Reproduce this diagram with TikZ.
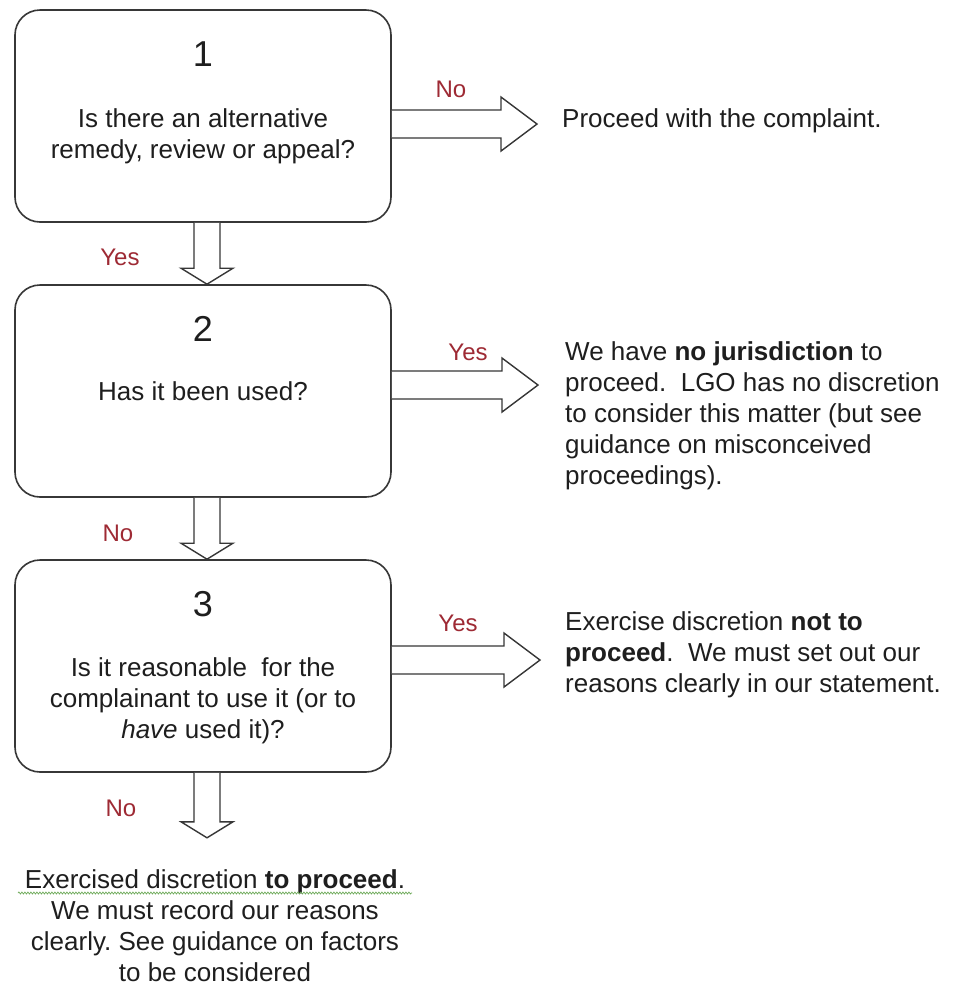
\documentclass[tikz,border=0pt]{standalone}
\usepackage{fontspec}
\setmainfont{Liberation Sans}
\usetikzlibrary{calc,decorations.pathmorphing}
\definecolor{ink}{RGB}{30,30,30}
\definecolor{edge}{RGB}{55,55,55}
\definecolor{lab}{RGB}{158,42,52}
\definecolor{squig}{RGB}{110,170,90}
\frenchspacing
\newcommand\rblock[2]{\draw[blockarrow] ($(#1)+(0,-14)$) -- ($(#2)+(-36,-14)$) -- ($(#2)+(-36,-27)$) -- (#2) -- ($(#2)+(-36,27)$) -- ($(#2)+(-36,14)$) -- ($(#1)+(0,14)$);}
\newcommand\dblock[2]{\draw[blockarrow] ($(#1)+(-13,0)$) -- ($(#2)+(-13,-16)$) -- ($(#2)+(-26,-16)$) -- (#2) -- ($(#2)+(26,-16)$) -- ($(#2)+(13,-16)$) -- ($(#1)+(13,0)$);}
\begin{document}
\begin{tikzpicture}[x=1pt,y=-1pt,
  box/.style={draw=edge, line width=1.6pt, rounded corners=25pt, fill=white,
    minimum width=376pt, minimum height=212pt, inner sep=0pt},
  num/.style={inner sep=0pt, text=ink, font=\fontsize{36}{40}\selectfont},
  qtext/.style={inner sep=0pt, text=ink, align=center, anchor=north, font=\fontsize{26}{31}\selectfont},
  rtext/.style={inner sep=0pt, text=ink, align=left, font=\fontsize{26}{31}\selectfont},
  lbl/.style={inner sep=0pt, text=lab, font=\fontsize{24}{28}\selectfont},
  blockarrow/.style={draw=edge, line width=1.4pt, fill=white, line join=miter}]
\useasboundingbox (0,0) rectangle (956,986);
\fill[white] (0,0) rectangle (956,986);

% boxes
\node[box] (b1) at (203,116) {};
\node[box] (b2) at (203,391) {};
\node[box] (b3) at (203,666) {};

\node[num] (n1) at ($(b1.north)+(0,45)$) {1};
\node[num] (n2) at ($(b2.north)+(0,45)$) {2};
\node[num] (n3) at ($(b3.north)+(0,45)$) {3};

\node[qtext] (q1) at ($(b1.north)+(0,99)$) {Is there an alternative\\remedy, review or appeal?};
\node[qtext] (q2) at ($(b2.north)+(0,97)$) {Has it been used?};
\node[qtext] (q3) at ($(b3.north)+(0,98)$) {Is it reasonable~ for the\\complainant to use it (or to\\\textit{have} used it)?};

% outcome texts
\node[rtext, anchor=base west] (t1) at (562,127) {Proceed with the complaint.};
\node[rtext, anchor=north west] (t2) at (565,341) {We have \textbf{no jurisdiction} to\\proceed.~ LGO has no discretion\\to consider this matter (but see\\guidance on misconceived\\proceedings).};
\node[rtext, anchor=north west] (t3) at (565,611) {Exercise discretion \textbf{not to}\\\textbf{proceed}.~ We must set out our\\reasons clearly in our statement.};
\node[qtext] (t4) at (215,869) {Exercised discretion \textbf{to proceed}.\\We must record our reasons\\clearly. See guidance on factors\\to be considered};

% arrow tips
\coordinate (r1) at (537,124);
\coordinate (r2) at (538,385);
\coordinate (r3) at (540,660);
\coordinate (d1) at ($(b2.north)+(4,0)$);
\coordinate (d2) at ($(b3.north)+(4,0)$);
\coordinate (d3) at ($(b3.south)+(4,65)$);

\rblock{b1.east|-r1}{r1}
\rblock{b2.east|-r2}{r2}
\rblock{b3.east|-r3}{r3}
\dblock{b1.south-|d1}{d1}
\dblock{b2.south-|d2}{d2}
\dblock{b3.south-|d3}{d3}

% labels
\node[lbl] (l1) at (451,89) {No};
\node[lbl] (l2) at (468,352) {Yes};
\node[lbl] (l3) at (458,623) {Yes};
\node[lbl] (l4) at (120,257) {Yes};
\node[lbl] (l5) at (118,533) {No};
\node[lbl] (l6) at (121,808) {No};

% spell-check squiggle
\coordinate (s1) at (18,893);
\coordinate (s2) at (412,893);
\draw[squig, line width=0.7pt, decorate, decoration={snake, amplitude=1pt, segment length=3pt}] (s1) -- (s2);
\end{tikzpicture}
\end{document}
